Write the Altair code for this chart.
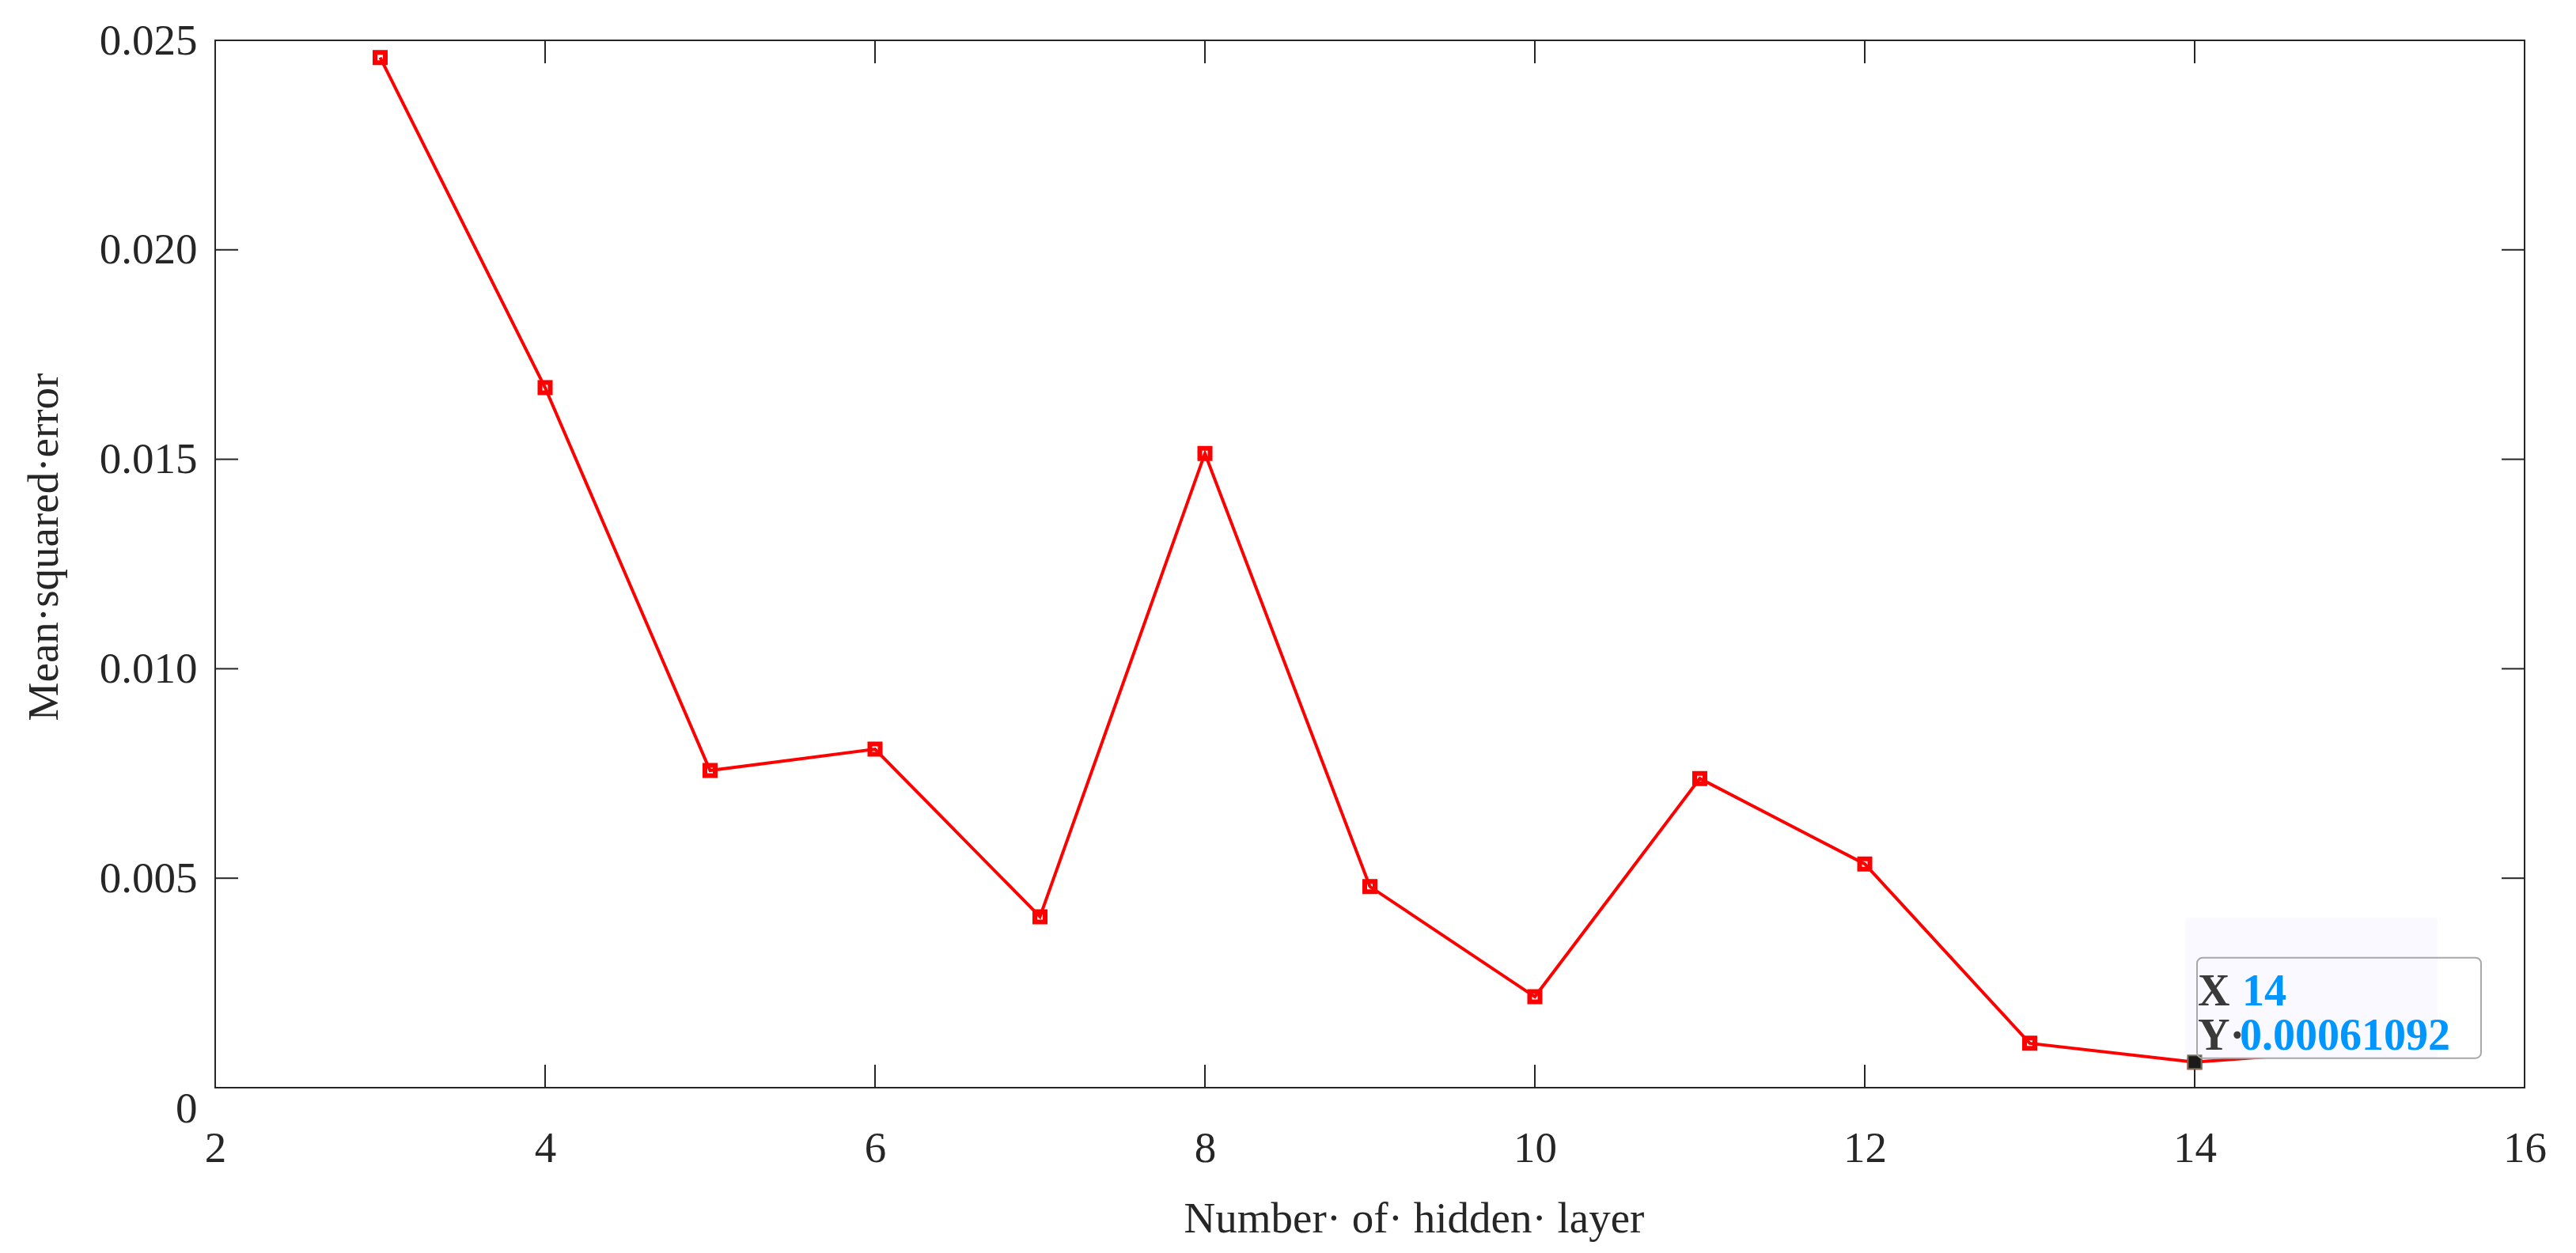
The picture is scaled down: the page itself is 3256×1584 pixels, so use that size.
import altair as alt
import pandas as pd

# ---- data ----
hidden_layers = [3, 4, 5, 6, 7, 8, 9, 10, 11, 12, 13, 14, 15]
mse_values = [0.02459, 0.01671, 0.00757, 0.00808, 0.00408, 0.01514,
              0.00480, 0.00217, 0.00738, 0.00534, 0.00106, 0.00061092, 0.00090]

x_ticks = [2, 4, 6, 8, 10, 12, 14, 16]
y_ticks = [0, 0.005, 0.010, 0.015, 0.020, 0.025]

tip_x = 14
tip_y = 0.00061092
tip_x_label = "14"
tip_y_label = "0.00061092"

W, H = 2919, 1324
TICK = 29
INK = "#262626"
FONT = "Liberation Serif"

df = pd.DataFrame({"layers": hidden_layers, "mse": mse_values})
xt = pd.DataFrame({"v": x_ticks})
yt = pd.DataFrame({"v": y_ticks})
tip = pd.DataFrame({"layers": [tip_x], "mse": [tip_y]})

xscale = alt.Scale(domain=[2, 16], nice=False, zero=False)
yscale = alt.Scale(domain=[0, 0.025], nice=False, zero=False)

xaxis = alt.Axis(values=x_ticks, ticks=False, domain=False, grid=False,
                 labelFont=FONT, labelFontSize=55, labelColor=INK, labelPadding=50,
                 labelFlush=False, labelExpr="format(datum.value, 'd')",
                 title="Number· of· hidden· layer", titleFont=FONT, titleFontSize=55,
                 titleFontWeight="normal", titleColor=INK,
                 titleX=1515, titleY=182, titleAlign="center", titleBaseline="alphabetic")
yaxis = alt.Axis(values=y_ticks, ticks=False, domain=False, grid=False,
                 labelFont=FONT, labelFontSize=55, labelColor=INK, labelPadding=23,
                 labelFlush=False,
                 labelOffset={"condition": {"test": "datum.value === 0", "value": 26}, "value": 0},
                 labelExpr="datum.value == 0 ? '0' : format(datum.value, '.3f')",
                 title="Mean·squared·error", titleFont=FONT, titleFontSize=55,
                 titleFontWeight="normal", titleColor=INK,
                 titleX=-200, titleY=640, titleBaseline="alphabetic", titleAngle=270)

base = alt.Chart(df)

line = base.mark_line(color="#FF0000", strokeWidth=4).encode(
    x=alt.X("layers:Q", scale=xscale, axis=xaxis),
    y=alt.Y("mse:Q", scale=yscale, axis=yaxis),
)
pts = base.mark_point(shape="square", size=169, filled=False, color="#FF0000",
                      strokeWidth=6, opacity=1).encode(
    x=alt.X("layers:Q", scale=xscale),
    y=alt.Y("mse:Q", scale=yscale),
)

# inner ticks on all four sides
tick_style = dict(color=INK, strokeWidth=2)
t_bottom = alt.Chart(xt).mark_rule(**tick_style).encode(
    x=alt.X("v:Q", scale=xscale), y=alt.value(H), y2=alt.value(H - TICK))
t_top = alt.Chart(xt).mark_rule(**tick_style).encode(
    x=alt.X("v:Q", scale=xscale), y=alt.value(0), y2=alt.value(TICK))
t_left = alt.Chart(yt).mark_rule(**tick_style).encode(
    y=alt.Y("v:Q", scale=yscale), x=alt.value(0), x2=alt.value(TICK))
t_right = alt.Chart(yt).mark_rule(**tick_style).encode(
    y=alt.Y("v:Q", scale=yscale), x=alt.value(W - TICK), x2=alt.value(W))

# data tip
tipbase = alt.Chart(tip)
enc = dict(x=alt.X("layers:Q", scale=xscale), y=alt.Y("mse:Q", scale=yscale),
           x2="layers:Q", y2="mse:Q")
tip_bg = tipbase.mark_rect(fill="#f9f9ff", opacity=1, xOffset=-12, x2Offset=307,
                           yOffset=-183, y2Offset=-5, cornerRadius=4).encode(**enc)
tip_border = tipbase.mark_rect(fillOpacity=0, stroke="#a8a8a8", strokeWidth=2,
                               xOffset=3, x2Offset=362, yOffset=-132, y2Offset=-5,
                               cornerRadius=7).encode(**enc)
tip_pt = tipbase.mark_point(shape="square", size=290, filled=True, color="#1a1a1a",
                            stroke="#6e6e5a", strokeWidth=2, opacity=1).encode(
    x=alt.X("layers:Q", scale=xscale), y=alt.Y("mse:Q", scale=yscale))

txt_common = dict(font=FONT, fontSize=56, fontWeight="bold", align="left",
                  baseline="alphabetic")
t_xlab = tipbase.mark_text(text="X", color="#3a3a3a", dx=4, dy=-72, **txt_common).encode(
    x=alt.X("layers:Q", scale=xscale), y=alt.Y("mse:Q", scale=yscale))
t_xval = tipbase.mark_text(text=tip_x_label, color="#0096FF", dx=60, dy=-72, **txt_common).encode(
    x=alt.X("layers:Q", scale=xscale), y=alt.Y("mse:Q", scale=yscale))
t_ylab = tipbase.mark_text(text="Y·", color="#3a3a3a", dx=4, dy=-16, **txt_common).encode(
    x=alt.X("layers:Q", scale=xscale), y=alt.Y("mse:Q", scale=yscale))
t_yval = tipbase.mark_text(text=tip_y_label, color="#0096FF", dx=57, dy=-16, **txt_common).encode(
    x=alt.X("layers:Q", scale=xscale), y=alt.Y("mse:Q", scale=yscale))

chart = alt.layer(
    line, pts, tip_bg, t_bottom, t_top, t_left, t_right,
    tip_pt, tip_border, t_xlab, t_xval, t_ylab, t_yval
).properties(
    width=W, height=H,
    autosize=alt.AutoSizeParams(type="none"),
    padding={"left": 264, "top": 43, "right": 40, "bottom": 200},
    background="white",
).configure_view(
    stroke=INK, strokeWidth=2
)

chart.save("out.html", embed_options={"renderer": "svg", "actions": False})
